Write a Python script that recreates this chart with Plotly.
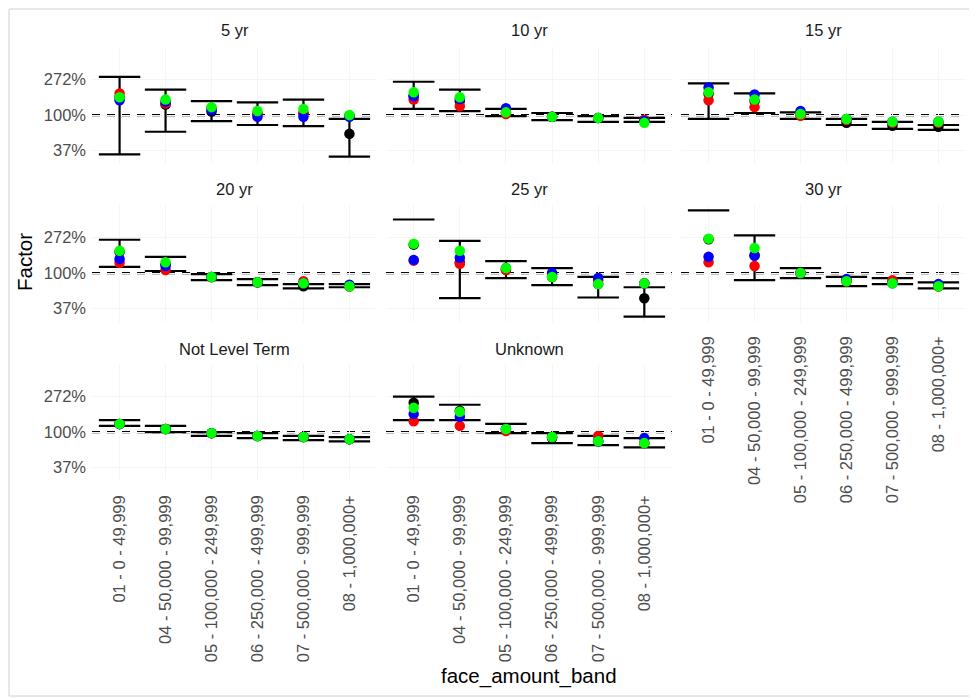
import math
import plotly.graph_objects as go

categories = ["01 - 0 - 49,999", "04 - 50,000 - 99,999", "05 - 100,000 - 249,999",
              "06 - 250,000 - 499,999", "07 - 500,000 - 999,999", "08 - 1,000,000+"]
panel_titles = ["5 yr", "10 yr", "15 yr", "20 yr", "25 yr", "30 yr", "Not Level Term", "Unknown"]
y_tick_values = [0.3679, 1.0, 2.7183]
y_tick_labels = ["37%", "100%", "272%"]

# ---- factors (lower / upper CI, black, red, blue, green points)
yr5_lower = [0.33, 0.625, 0.844, 0.756, 0.733, 0.31]
yr5_upper = [2.94, 2.05, 1.48, 1.43, 1.55, 0.896]
yr5_black = [1.65, 1.35, 1.105, 1.02, 1.05, 0.589]
yr5_red = [1.84, 1.39, 1.22, 1.05, 1.05, 0.98]
yr5_blue = [1.52, 1.46, 1.15, 0.951, 0.951, 0.951]
yr5_green = [1.65, 1.55, 1.25, 1.12, 1.19, 1.0]

yr10_lower = [1.19, 1.12, 0.970, 0.869, 0.827, 0.827]
yr10_upper = [2.56, 2.05, 1.19, 1.06, 0.970, 0.923]
yr10_black = [1.73, 1.49, 1.07, 0.951, 0.923, 0.869]
yr10_red = [1.55, 1.28, 1.03, 0.951, 0.923, 0.869]
yr10_blue = [1.70, 1.57, 1.21, 0.951, 0.923, 0.844]
yr10_green = [1.90, 1.65, 1.08, 0.951, 0.923, 0.803]

yr15_lower = [0.896, 1.06, 0.896, 0.756, 0.677, 0.657]
yr15_upper = [2.44, 1.84, 1.08, 0.896, 0.827, 0.756]
yr15_black = [1.82, 1.49, 1.0, 0.803, 0.741, 0.719]
yr15_red = [1.52, 1.25, 0.98, 0.869, 0.803, 0.803]
yr15_blue = [2.18, 1.79, 1.12, 0.896, 0.827, 0.827]
yr15_green = [1.90, 1.55, 1.03, 0.896, 0.827, 0.827]

yr20_lower = [1.19, 1.06, 0.819, 0.712, 0.651, 0.670]
yr20_upper = [2.56, 1.58, 0.970, 0.844, 0.733, 0.733]
yr20_black = [1.82, 1.28, 0.896, 0.771, 0.691, 0.691]
yr20_red = [1.34, 1.09, 0.896, 0.771, 0.795, 0.691]
yr20_blue = [1.49, 1.22, 0.896, 0.771, 0.748, 0.719]
yr20_green = [1.88, 1.36, 0.896, 0.771, 0.748, 0.691]

yr25_lower = [None, 0.492, 0.869, 0.712, 0.502, 0.292]
yr25_upper = [4.53, 2.48, 1.40, 1.15, 0.896, 0.670]
yr25_black = [2.23, 1.35, 1.105, 0.896, 0.733, 0.492]
yr25_red = [1.42, 1.30, 1.09, 0.951, 0.819, 0.748]
yr25_blue = [1.45, 1.54, 1.15, 1.0, 0.869, 0.748]
yr25_green = [2.29, 1.88, 1.15, 0.896, 0.733, 0.748]

yr30_lower = [None, 0.819, 0.869, 0.691, 0.733, 0.651]
yr30_upper = [5.87, 2.89, 1.15, 0.896, 0.869, 0.771]
yr30_black = [2.59, 1.65, 1.0, 0.795, 0.771, 0.691]
yr30_red = [1.36, 1.22, 1.0, 0.795, 0.819, 0.691]
yr30_blue = [1.58, 1.63, 1.0, 0.844, 0.748, 0.733]
yr30_green = [2.64, 2.03, 1.0, 0.795, 0.748, 0.691]

nlt_lower = [1.19, 1.0, 0.896, 0.844, 0.795, 0.771]
nlt_upper = [1.40, 1.19, 1.0, 0.970, 0.896, 0.869]
nlt_black = [1.26, 1.09, 0.970, 0.896, 0.869, 0.819]
nlt_red = [1.26, 1.09, 0.970, 0.896, 0.869, 0.819]
nlt_blue = [1.25, 1.09, 0.970, 0.896, 0.869, 0.819]
nlt_green = [1.26, 1.09, 0.970, 0.896, 0.869, 0.819]

unk_lower = [1.40, 1.40, 0.970, 0.733, 0.691, 0.651]
unk_upper = [2.72, 2.16, 1.26, 0.970, 0.896, 0.844]
unk_black = [2.29, 1.82, 1.09, 0.844, 0.771, 0.733]
unk_red = [1.36, 1.19, 1.03, 0.869, 0.896, 0.733]
unk_blue = [1.67, 1.54, 1.09, 0.869, 0.771, 0.844]
unk_green = [1.99, 1.77, 1.09, 0.869, 0.771, 0.733]

panels = [
    (yr5_lower, yr5_upper, yr5_black, yr5_red, yr5_blue, yr5_green),
    (yr10_lower, yr10_upper, yr10_black, yr10_red, yr10_blue, yr10_green),
    (yr15_lower, yr15_upper, yr15_black, yr15_red, yr15_blue, yr15_green),
    (yr20_lower, yr20_upper, yr20_black, yr20_red, yr20_blue, yr20_green),
    (yr25_lower, yr25_upper, yr25_black, yr25_red, yr25_blue, yr25_green),
    (yr30_lower, yr30_upper, yr30_black, yr30_red, yr30_blue, yr30_green),
    (nlt_lower, nlt_upper, nlt_black, nlt_red, nlt_blue, nlt_green),
    (unk_lower, unk_upper, unk_black, unk_red, unk_blue, unk_green),
]

# page is offset by the 8px body margin: figure covers page pixels 8..977 / 8..698
OFF = 8
W, H = 977 - OFF, 698 - OFF


def px(p):
    return (p - OFF) / W


def py(p):
    return 1 - (p - OFF) / H


col_px = [(92, 377), (386, 672), (681, 966)]
row_px = [(47, 164), (205, 322), (364, 481)]
strip_y = [30, 189, 349]
FONT = "Liberation Sans, Arial, sans-serif"
CAP = 0.45
GRID = "#F5F5F5"

fig = go.Figure()
layout = dict(
    width=W, height=H, margin=dict(l=0, r=0, t=0, b=0),
    paper_bgcolor="white", plot_bgcolor="white", showlegend=False,
    font=dict(family=FONT),
)
shapes = []
annotations = []
yrange = [math.log10(math.exp(-1.38)), math.log10(math.exp(1.92))]

for k, (lo, up, bl, rd, bu, gr) in enumerate(panels):
    r, c = divmod(k, 3)
    sfx = "" if k == 0 else str(k + 1)
    xa, ya = "x" + sfx, "y" + sfx
    xs, ys = [], []
    for i in range(len(categories)):
        xs += [i - CAP, i + CAP, None]
        ys += [up[i], up[i], None]
        if lo[i] is not None:
            xs += [i, i, None, i - CAP, i + CAP, None]
            ys += [lo[i], up[i], None, lo[i], lo[i], None]
    fig.add_trace(go.Scatter(x=xs, y=ys, mode="lines", line=dict(color="black", width=2.2),
                             xaxis=xa, yaxis=ya, hoverinfo="skip"))
    for vals, col in [(bl, "black"), (rd, "#FF0000"), (bu, "#0000FF"), (gr, "#00FF00")]:
        fig.add_trace(go.Scatter(x=list(range(len(categories))), y=vals, mode="markers",
                                 marker=dict(color=col, size=10.5, line=dict(width=0)),
                                 xaxis=xa, yaxis=ya))
    x0, x1 = col_px[c]
    top, bot = row_px[r]
    layout["xaxis" + sfx] = dict(
        domain=[px(x0), px(x1)], anchor=ya, range=[-0.6, 5.6],
        tickvals=list(range(len(categories))), ticktext=categories,
        showticklabels=k in (5, 6, 7), tickangle=-90, ticks="", ticklabelstandoff=10,
        tickfont=dict(size=16.5, color="#4D4D4D", family=FONT),
        showgrid=True, gridcolor=GRID, gridwidth=1, zeroline=False, showline=False,
        automargin=False,
    )
    layout["yaxis" + sfx] = dict(
        domain=[py(bot), py(top)], anchor=xa, type="log", range=yrange,
        tickvals=y_tick_values, ticktext=y_tick_labels, showticklabels=(c == 0), ticks="",
        ticklabelstandoff=5,
        tickfont=dict(size=16.5, color="#4D4D4D", family=FONT),
        showgrid=True, gridcolor=GRID, gridwidth=1, zeroline=False, showline=False,
        automargin=False,
    )
    shapes.append(dict(type="line", xref=xa + " domain", yref=ya, x0=0, x1=1, y0=1, y1=1,
                       line=dict(color="black", width=2.2, dash="8px,7px"), layer="below"))
    annotations.append(dict(text=panel_titles[k], x=px((x0 + x1) / 2), y=py(strip_y[r]),
                            xref="paper", yref="paper", showarrow=False, xanchor="center",
                            yanchor="middle", font=dict(size=16.5, color="#1A1A1A", family=FONT)))

annotations.append(dict(text="Factor", x=px(25), y=py(262), xref="paper", yref="paper",
                        showarrow=False, textangle=-90, xanchor="center", yanchor="middle",
                        font=dict(size=20.5, color="black", family=FONT)))
annotations.append(dict(text="face_amount_band", x=px(529), y=py(676), xref="paper",
                        yref="paper", showarrow=False, xanchor="center", yanchor="middle",
                        font=dict(size=20.5, color="black", family=FONT)))
shapes.append(dict(type="rect", xref="paper", yref="paper", x0=px(9), x1=px(974),
                   y0=py(696), y1=py(9), line=dict(color="#D0D0D0", width=1),
                   fillcolor="rgba(0,0,0,0)", layer="below"))

layout["shapes"] = shapes
layout["annotations"] = annotations
fig.update_layout(**layout)
fig.write_html("out.html")
